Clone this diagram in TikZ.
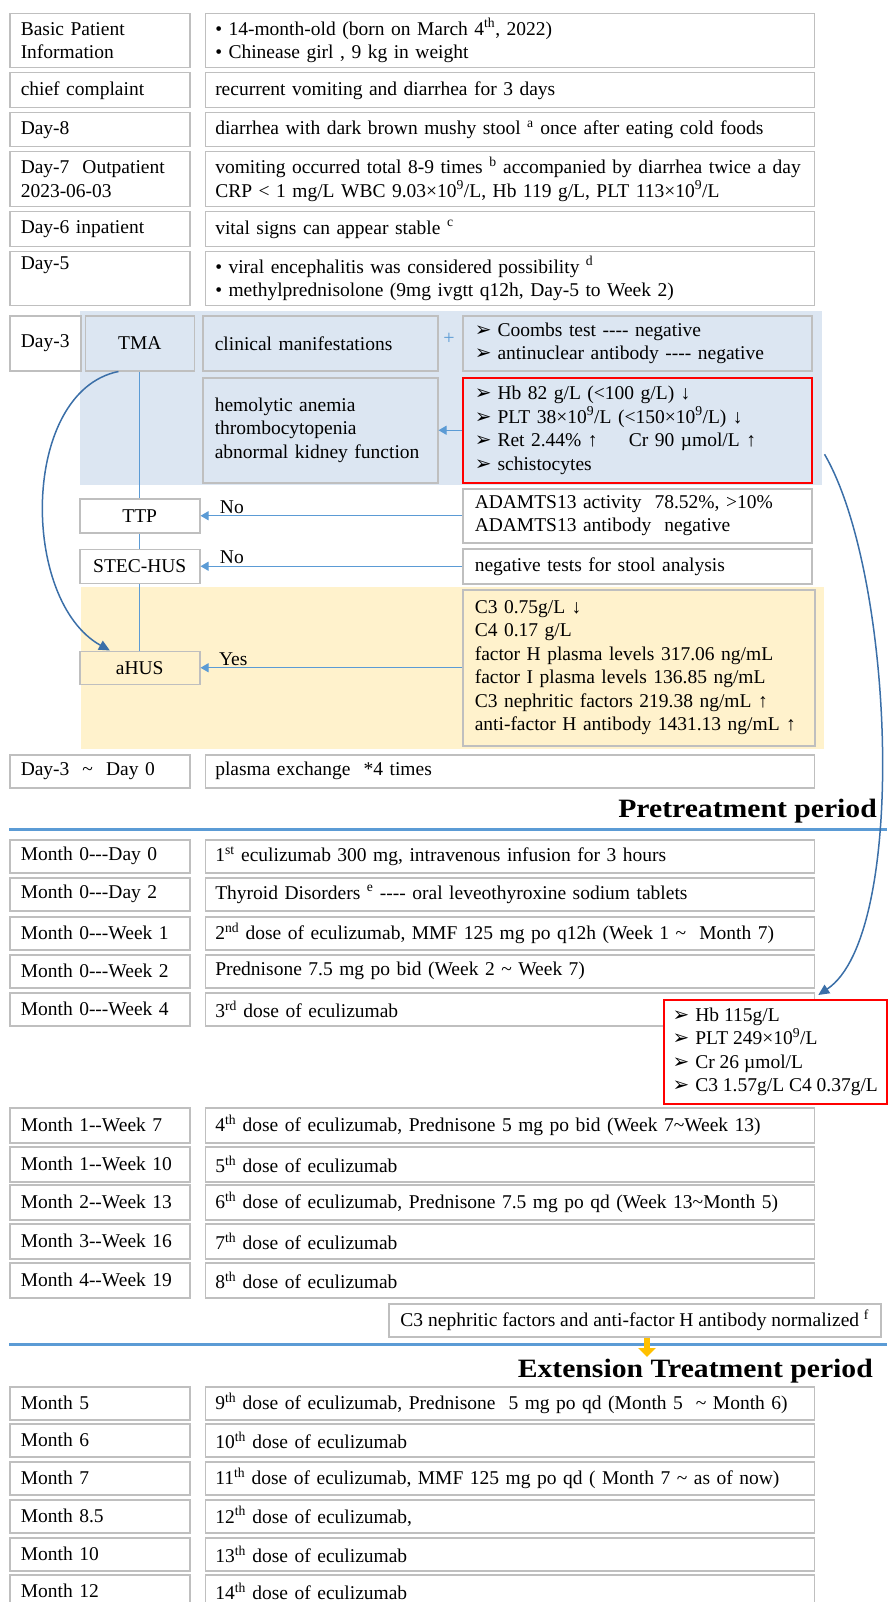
\documentclass[tikz,border=0pt]{standalone}
\usepackage{fontspec}
\setmainfont{Liberation Serif}
\newfontfamily\dingfont{DejaVu Sans}
\newfontfamily\headfont[FakeStretch=1.12]{Liberation Serif}
\usetikzlibrary{positioning,arrows.meta}

\definecolor{boxgray}{HTML}{BFBFBF}
\definecolor{tmablue}{HTML}{DCE6F2}
\definecolor{ahusyellow}{HTML}{FFF2CC}
\definecolor{linkblue}{HTML}{5B9BD5}
\definecolor{curveblue}{HTML}{3B6FA8}
\definecolor{normorange}{HTML}{FFC000}

\newcommand{\arrowbullet}{{\dingfont\fontsize{20}{20}\selectfont ➢}\hspace{6pt}}

\begin{document}
\begin{tikzpicture}[
        x=1pt, y=-1pt,
        font=\fontsize{19.5}{23.5}\selectfont,
        tbox/.style={draw=boxgray, line width=1.5pt, fill=white, anchor=north west, text width=158pt, inner xsep=11pt, inner ysep=2pt, align=left},
        ebox/.style={draw=boxgray, line width=1.5pt, fill=white, text width=589pt, inner xsep=10pt, inner ysep=2pt, align=left},
        testbox/.style={draw=boxgray, line width=1.5pt, anchor=north west, inner xsep=12pt, inner ysep=2pt, align=left},
        cbox/.style={draw=boxgray, line width=1.5pt, anchor=north west, inner sep=0pt, align=center},
        link/.style={draw=linkblue, line width=1pt, -{Triangle[length=8pt,width=9pt]}},
        bendarrow/.style={draw=curveblue, line width=1.5pt, -{Triangle[length=11pt,width=10pt]}},
        sepline/.style={draw=linkblue, line width=3pt},
        heading/.style={font=\headfont\fontsize{26.5}{30}\selectfont\bfseries, inner sep=0pt, anchor=base east}
    ]
    \useasboundingbox (0,0) rectangle (887,1602);

    % admission history
    \node[tbox, minimum height=54pt] (t1) at (9,13) {Basic Patient\\Information};
    \node[ebox, minimum height=54pt, right=14pt of t1] (e1) {• 14-month-old (born on March 4\textsuperscript{th}, 2022)\\• Chinease girl , 9 kg in weight};
    \node[tbox, minimum height=35pt] (t2) at (9,72) {chief complaint};
    \node[ebox, minimum height=35pt, right=14pt of t2] (e2) {recurrent vomiting and diarrhea for 3 days};
    \node[tbox, minimum height=34pt] (t3) at (9,112) {Day-8};
    \node[ebox, minimum height=34pt, right=14pt of t3] (e3) {diarrhea with dark brown mushy stool \textsuperscript{a} once after eating cold foods};
    \node[tbox, minimum height=55pt] (t4) at (9,151) {Day-7\ \ Outpatient\\2023-06-03};
    \node[ebox, minimum height=55pt, right=14pt of t4] (e4) {vomiting occurred total 8-9 times \textsuperscript{b} accompanied by diarrhea twice a day\\CRP < 1 mg/L WBC 9.03×10\textsuperscript{9}/L,\ Hb 119 g/L,\ PLT 113×10\textsuperscript{9}/L};
    \node[tbox, minimum height=35pt] (t5) at (9,211) {Day-6 inpatient};
    \node[ebox, minimum height=35pt, right=14pt of t5] (e5) {vital signs can appear stable \textsuperscript{c}};
    \node[tbox, minimum height=54pt] (t6) at (9,251) {Day-5\\\strut};
    \node[ebox, minimum height=54pt, right=14pt of t6] (e6) {• viral encephalitis was considered possibility \textsuperscript{d}\\• methylprednisolone (9mg ivgtt q12h, Day-5 to Week 2)};

    % diagnosis of TMA
    \fill[tmablue] (80,311) rectangle (822,485);
    \fill[ahusyellow] (81,587) rectangle (824,749);
    \node[cbox, fill=white, minimum width=71pt, minimum height=55pt] (day3) at (9,315) {Day-3};
    \node[cbox, fill=tmablue, minimum width=109pt, minimum height=55pt] (tma) at (84.5,315) {TMA};
    \node[testbox, fill=tmablue, text width=211pt, minimum height=55pt] (clin) at (202,315) {clinical manifestations};
    \node[text=linkblue, font=\fontsize{20}{20}\selectfont, inner sep=0pt] (plus) at (449,339) {+};
    \node[testbox, fill=tmablue, text width=325pt, minimum height=55pt] (coombs) at (462,315) {\arrowbullet Coombs test -{}-{}-{}- negative\\\arrowbullet antinuclear antibody -{}-{}-{}- negative};
    \node[testbox, fill=tmablue, text width=211pt, minimum height=105pt] (hemo) at (202,377) {hemolytic anemia\\thrombocytopenia\\abnormal kidney function};
    \node[testbox, draw=red, fill=tmablue, text width=325pt, minimum height=105pt] (labs) at (462,377) {\arrowbullet Hb 82 g/L (<100 g/L) ↓\\\arrowbullet PLT 38×10\textsuperscript{9}/L (<150×10\textsuperscript{9}/L) ↓\\\arrowbullet Ret 2.44\% ↑\hspace{1.6em}Cr 90 µmol/L ↑\\\arrowbullet schistocytes};
    \node[cbox, fill=white, minimum width=120pt, minimum height=34pt] (ttp) at (79,498) {TTP};
    \node[testbox, fill=white, text width=325pt, minimum height=54pt] (adamts) at (462,488) {ADAMTS13 activity\ \ 78.52\%, >10\%\\ADAMTS13 antibody\ \ negative};
    \node[cbox, fill=white, minimum width=120pt, minimum height=34pt] (stec) at (79,548.5) {STEC-HUS};
    \node[testbox, fill=white, text width=325pt, minimum height=35pt] (stool) at (462,548) {negative tests for stool analysis};
    \node[cbox, fill=ahusyellow, minimum width=120pt, minimum height=33pt] (ahus) at (79,650.5) {aHUS};
    \node[testbox, fill=ahusyellow, text width=328pt, minimum height=156pt] (compl) at (462,589) {C3 0.75g/L ↓\\C4 0.17 g/L\\factor H plasma levels 317.06 ng/mL\\factor I plasma levels 136.85 ng/mL\\C3 nephritic factors 219.38 ng/mL ↑\\anti-factor H antibody 1431.13 ng/mL ↑};

    \draw[linkblue, line width=1pt] (tma) -- (ttp) -- (stec) -- (ahus);
    \draw[link] (labs) -- (hemo);
    \draw[link] (adamts) -- node[pos=0.88, above, inner sep=2pt] {No} (ttp);
    \draw[link] (stool) -- node[pos=0.88, above, inner sep=2pt] {No} (stec);
    \draw[link] (compl) -- node[pos=0.875, above, inner sep=2pt] {Yes} (ahus);
    \draw[bendarrow] (tma.-127) .. controls +(-98,20) and +(-90,-50) .. (ahus.150);

    \node[tbox, minimum height=33pt] (t7) at (9,754) {Day-3\ \ \textasciitilde\ \ Day 0};
    \node[ebox, minimum height=33pt, right=14pt of t7] (e7) {plasma exchange\ \ *4 times};

    % pretreatment period
    \node[heading] (pretitle) at (877,817) {Pretreatment period};
    \draw[sepline] (9,829) -- (887,829);
    \node[tbox, minimum height=33pt] (t8) at (9,839) {Month 0-{}-{}-Day 0};
    \node[ebox, minimum height=33pt, right=14pt of t8] (e8) {1\textsuperscript{st} eculizumab 300 mg, intravenous infusion for 3 hours};
    \node[tbox, minimum height=33pt] (t9) at (9,877) {Month 0-{}-{}-Day 2};
    \node[ebox, minimum height=33pt, right=14pt of t9] (e9) {Thyroid Disorders \textsuperscript{e} -{}-{}-{}- oral leveothyroxine sodium tablets};
    \node[tbox, minimum height=33pt] (t10) at (9,916) {Month 0-{}-{}-Week 1};
    \node[ebox, minimum height=33pt, right=14pt of t10] (e10) {2\textsuperscript{nd} dose of eculizumab, MMF 125 mg po q12h (Week 1 \textasciitilde\ \ Month 7)};
    \node[tbox, minimum height=33pt] (t11) at (9,954) {Month 0-{}-{}-Week 2};
    \node[ebox, minimum height=33pt, right=14pt of t11] (e11) {Prednisone 7.5 mg po bid (Week 2 \textasciitilde\ Week 7)};
    \node[tbox, minimum height=33pt] (t12) at (9,992) {Month 0-{}-{}-Week 4};
    \node[ebox, minimum height=33pt, right=14pt of t12] (e12) {3\textsuperscript{rd} dose of eculizumab};
    \node[cbox, draw=red, fill=white, minimum width=223pt, minimum height=104pt, align=left] (recov) at (663,999) {\arrowbullet Hb 115g/L\\\arrowbullet PLT 249×10\textsuperscript{9}/L\\\arrowbullet Cr 26 µmol/L\\\arrowbullet C3 1.57g/L C4 0.37g/L};
    \draw[bendarrow] ([shift={(12,24)}]labs.east) .. controls +(70,120) and +(90,-60) .. ([shift={(43,-4)}]recov.north);

    \node[tbox, minimum height=35pt] (t13) at (9,1107) {Month 1-{}-Week 7};
    \node[ebox, minimum height=35pt, right=14pt of t13] (e13) {4\textsuperscript{th}\ dose of eculizumab, Prednisone 5 mg po bid (Week 7\textasciitilde Week 13)};
    \node[tbox, minimum height=35pt] (t14) at (9,1146) {Month 1-{}-Week 10};
    \node[ebox, minimum height=35pt, right=14pt of t14] (e14) {5\textsuperscript{th}\ dose of eculizumab};
    \node[tbox, minimum height=35pt] (t15) at (9,1184) {Month 2-{}-Week 13};
    \node[ebox, minimum height=35pt, right=14pt of t15] (e15) {6\textsuperscript{th} dose of eculizumab, Prednisone 7.5 mg po qd (Week 13\textasciitilde Month 5)};
    \node[tbox, minimum height=35pt] (t16) at (9,1223) {Month 3-{}-Week 16};
    \node[ebox, minimum height=35pt, right=14pt of t16] (e16) {7\textsuperscript{th} dose of eculizumab};
    \node[tbox, minimum height=35pt] (t17) at (9,1262) {Month 4-{}-Week 19};
    \node[ebox, minimum height=35pt, right=14pt of t17] (e17) {8\textsuperscript{th} dose of eculizumab};

    % extension treatment period
    \node[cbox, fill=white, minimum width=492pt, minimum height=33pt] (norm) at (388,1303) {C3 nephritic factors and anti-factor H antibody normalized \textsuperscript{f}};
    \draw[sepline] (9,1344) -- (887,1344);
    \coordinate (extarrow) at (647,1357);
    \draw[normorange, line width=6pt, -{Triangle[length=9pt,width=17pt]}] (norm.south -| extarrow) -- (extarrow);
    \node[heading] (exttitle) at (873,1377) {Extension Treatment period};
    \node[tbox, minimum height=33pt] (t18) at (9,1386) {Month 5};
    \node[ebox, minimum height=33pt, right=14pt of t18] (e18) {9\textsuperscript{th} dose of eculizumab, Prednisone\ \ 5 mg po qd (Month 5\ \ \textasciitilde\ Month 6)};
    \node[tbox, minimum height=33pt] (t19) at (9,1423) {Month 6};
    \node[ebox, minimum height=33pt, right=14pt of t19] (e19) {10\textsuperscript{th} dose of eculizumab};
    \node[tbox, minimum height=33pt] (t20) at (9,1461) {Month 7};
    \node[ebox, minimum height=33pt, right=14pt of t20] (e20) {11\textsuperscript{th} dose of eculizumab, MMF 125 mg po qd ( Month 7 \textasciitilde\ as of now)};
    \node[tbox, minimum height=33pt] (t21) at (9,1499) {Month 8.5};
    \node[ebox, minimum height=33pt, right=14pt of t21] (e21) {12\textsuperscript{th} dose of eculizumab,};
    \node[tbox, minimum height=33pt] (t22) at (9,1537) {Month 10};
    \node[ebox, minimum height=33pt, right=14pt of t22] (e22) {13\textsuperscript{th} dose of eculizumab};
    \node[tbox, minimum height=33pt] (t23) at (9,1574) {Month 12};
    \node[ebox, minimum height=33pt, right=14pt of t23] (e23) {14\textsuperscript{th} dose of eculizumab};
\end{tikzpicture}
\end{document}
